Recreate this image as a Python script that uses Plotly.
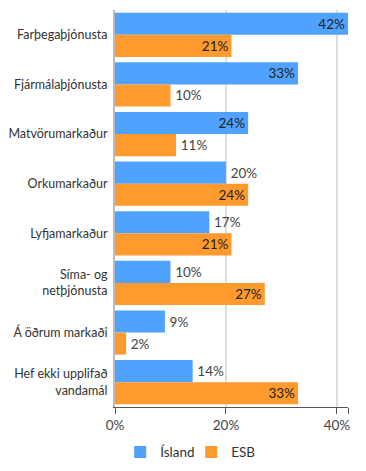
import plotly.graph_objects as go

categories = ["Farþegaþjónusta", "Fjármálaþjónusta", "Matvörumarkaður", "Orkumarkaður",
              "Lyfjamarkaður", "Síma- og<br>netþjónusta", "Á öðrum markaði",
              "Hef ekki upplifað<br>vandamál"]
island = [42, 33, 24, 20, 17, 10, 9, 14]
esb = [21, 10, 11, 24, 21, 27, 2, 33]
series_names = ["Ísland", "ESB"]
colors = ["#4fa3ff", "#ff9a2e"]
tick_vals = [0, 20, 40]
tick_text = ["0%", "20%", "40%"]
x_max = 42

FONT = "Source Sans Pro, Lato, Noto Sans, sans-serif"

def positions(vals):
    return ["inside" if v >= 21 else "outside" for v in vals]

def labels(vals):
    return [f"{v}%" if v >= 21 else f"\u2009{v}%" for v in vals]

fig = go.Figure()
for name, vals, col in zip(series_names, [island, esb], colors):
    fig.add_trace(go.Bar(
        y=categories, x=vals, name=name, orientation="h",
        marker=dict(color=col, line=dict(width=0)),
        text=labels(vals), textposition=positions(vals),
        insidetextanchor="end", constraintext="none",
        insidetextfont=dict(color="#222", size=13.5, family=FONT),
        outsidetextfont=dict(color="#444", size=13.5, family=FONT),
        cliponaxis=False,
    ))

fig.update_layout(
    width=358, height=463,
    margin=dict(l=107, r=18, t=2, b=64, autoexpand=False),
    barmode="group", bargap=0.11, bargroupgap=0,
    plot_bgcolor="white", paper_bgcolor="white",
    font=dict(family=FONT, size=12.5, color="#333"),
    showlegend=True,
    legend=dict(orientation="h", x=0.327, xanchor="center", y=-0.075, yanchor="top",
                font=dict(size=13.5, color="#333"), itemwidth=30, traceorder="normal",
                entrywidth=26, entrywidthmode="pixels"),
    xaxis=dict(range=[0, x_max], tickvals=tick_vals, ticktext=tick_text,
               showgrid=True, gridcolor="#dddddd", gridwidth=1.5,
               zeroline=False, showline=True, linecolor="#555", linewidth=1,
               ticks="outside", ticklen=6, tickcolor="#555",
               minor=dict(tickvals=[x_max], ticks="outside", ticklen=6, tickcolor="#555",
                          showgrid=False),
               tickfont=dict(size=13.5, color="#444"), automargin=False),
    yaxis=dict(autorange="reversed", showgrid=False, zeroline=False,
               showline=True, linecolor="#bbbbbb", linewidth=2,
               ticks="", ticklabelstandoff=3, automargin=False,
               tickfont=dict(size=12.5, color="#333")),
)

fig.write_html("out.html")
